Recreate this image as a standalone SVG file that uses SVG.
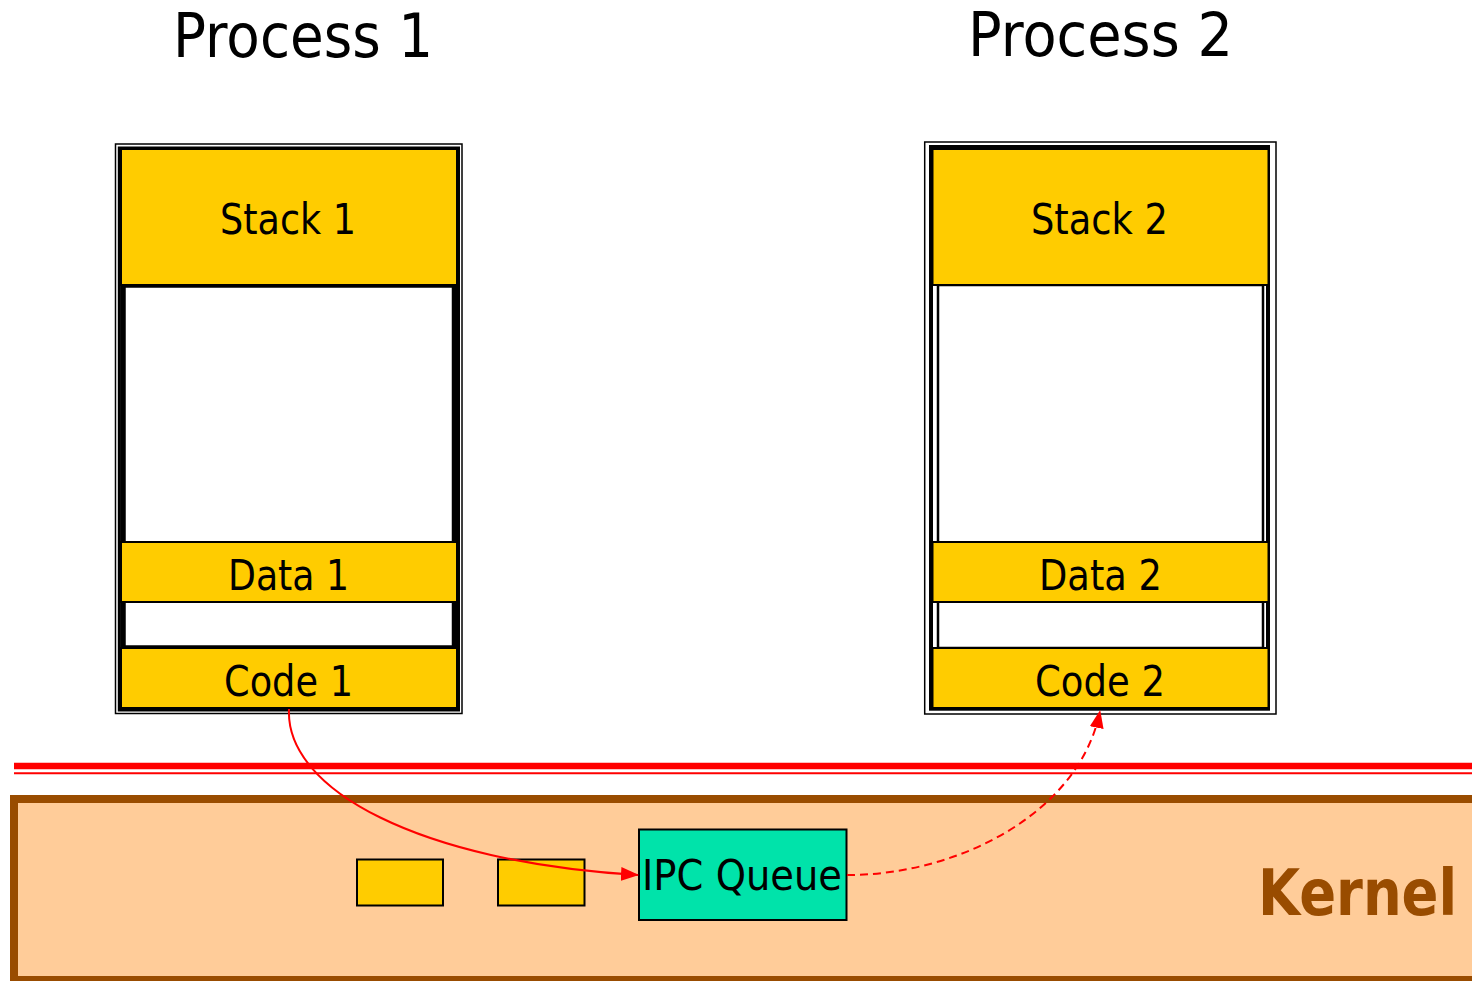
<svg xmlns="http://www.w3.org/2000/svg" width="1472" height="981" viewBox="0 0 1472 981">
  <style>
    .title { font-family: "DejaVu Sans", Verdana, sans-serif; font-size: 60px; fill: #000; }
    .label { font-family: "DejaVu Sans", Verdana, sans-serif; font-size: 42px; fill: #000; }
    .kernel { font-family: "DejaVu Sans", Verdana, sans-serif; font-size: 64px; font-weight: bold; fill: #994C00; }
    .seg { fill: #FFCC00; stroke: #000; stroke-width: 2; }
    .thin { fill: none; stroke: #000; stroke-width: 1.5; }
    .thick { fill: none; stroke: #000; stroke-width: 3; }
    .flow { fill: none; stroke: #FF0000; stroke-width: 2; }
  </style>
  <defs>
    <marker id="arrow" viewBox="0 0 18 14" refX="17" refY="7" markerWidth="18" markerHeight="14" markerUnits="userSpaceOnUse" orient="auto">
      <path d="M0,0 L18,7 L0,14 Z" fill="#FF0000"/>
    </marker>
  </defs>

  <rect width="1472" height="981" fill="#FFFFFF"/>

  <!-- titles -->
  <text class="title" x="303" y="57" text-anchor="middle" textLength="260" lengthAdjust="spacingAndGlyphs">Process 1</text>
  <text class="title" x="1100.5" y="56" text-anchor="middle" textLength="265" lengthAdjust="spacingAndGlyphs">Process 2</text>

  <!-- process 1 address space -->
  <g id="process1">
    <rect class="thin" x="115.5" y="144" width="346.5" height="569.5"/>
    <rect class="thick" x="119.3" y="148" width="339.2" height="562"/>
    <rect x="123" y="285" width="331.5" height="363" fill="#FFFFFF" stroke="#000" stroke-width="5.5"/>
    <g id="stack1">
      <rect class="seg" x="121" y="149" width="336" height="136"/>
      <text class="label" x="288" y="234" text-anchor="middle" textLength="136" lengthAdjust="spacingAndGlyphs">Stack 1</text>
    </g>
    <g id="data1">
      <rect class="seg" x="121" y="542" width="336" height="60"/>
      <text class="label" x="288.5" y="590" text-anchor="middle" textLength="121" lengthAdjust="spacingAndGlyphs">Data 1</text>
    </g>
    <g id="code1">
      <rect class="seg" x="121" y="648" width="336" height="60"/>
      <text class="label" x="288.5" y="696" text-anchor="middle" textLength="129" lengthAdjust="spacingAndGlyphs">Code 1</text>
    </g>
  </g>

  <!-- process 2 address space -->
  <g id="process2">
    <rect class="thin" x="924.7" y="142" width="351.3" height="572"/>
    <rect x="931" y="147" width="337" height="561.7" fill="none" stroke="#000" stroke-width="4"/>
    <rect x="938" y="285" width="325" height="363" fill="#FFFFFF" stroke="#000" stroke-width="2.5"/>
    <g id="stack2">
      <rect class="seg" x="932.5" y="149" width="336" height="136"/>
      <text class="label" x="1099.5" y="234" text-anchor="middle" textLength="137" lengthAdjust="spacingAndGlyphs">Stack 2</text>
    </g>
    <g id="data2">
      <rect class="seg" x="932.5" y="542" width="336" height="60"/>
      <text class="label" x="1100.5" y="590" text-anchor="middle" textLength="123" lengthAdjust="spacingAndGlyphs">Data 2</text>
    </g>
    <g id="code2">
      <rect class="seg" x="932.5" y="648" width="336" height="60"/>
      <text class="label" x="1100" y="696" text-anchor="middle" textLength="130" lengthAdjust="spacingAndGlyphs">Code 2</text>
    </g>
  </g>

  <!-- user / kernel boundary -->
  <g id="boundary">
    <line x1="14" y1="766" x2="1472" y2="766" stroke="#FF0000" stroke-width="6.5"/>
    <line x1="14" y1="773.3" x2="1472" y2="773.3" stroke="#FF0000" stroke-width="2"/>
  </g>

  <!-- kernel space -->
  <g id="kernel">
    <rect x="14" y="799" width="1470" height="181" fill="#FFCC99" stroke="#994C00" stroke-width="8"/>
    <text class="kernel" transform="translate(1258,915) scale(0.85,1)" x="0" y="0">Kernel</text>
  </g>

  <g id="msg1">
    <rect class="seg" x="357" y="859.5" width="86" height="46"/>
  </g>
  <g id="msg2">
    <rect class="seg" x="498" y="859.5" width="86.5" height="46"/>
  </g>

  <g id="ipc-queue">
    <rect x="639" y="829.5" width="207.5" height="90.5" fill="#00E3AA" stroke="#000" stroke-width="2"/>
    <text class="label" x="742" y="890" text-anchor="middle" textLength="200" lengthAdjust="spacingAndGlyphs">IPC Queue</text>
  </g>

  <!-- message flow -->
  <g id="connectors">
    <path class="flow" d="M289,709 C285,790 420,862 638,875" marker-end="url(#arrow)"/>
    <path class="flow" d="M847,875 C960,875 1080,812 1100,711" stroke-dasharray="8,5" marker-end="url(#arrow)"/>
  </g>
</svg>
